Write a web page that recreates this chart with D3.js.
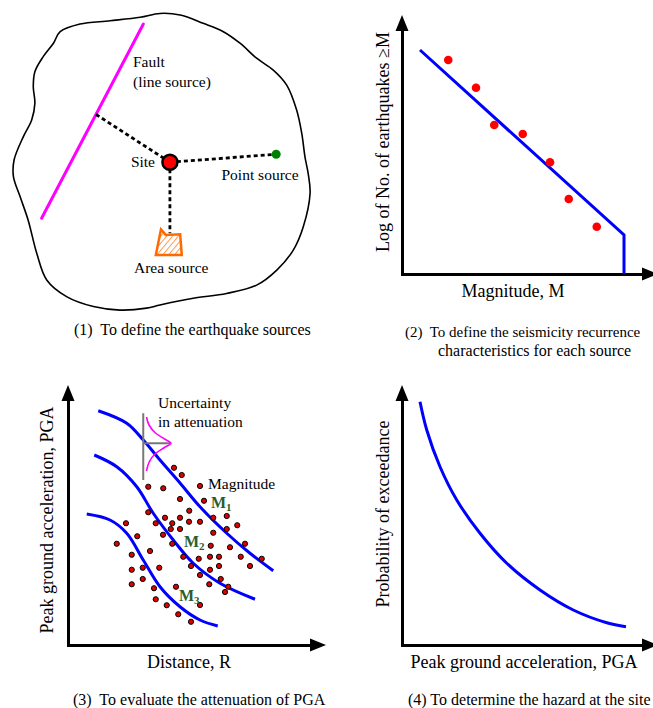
<!DOCTYPE html>
<html>
<head>
<meta charset="utf-8">
<script src="https://cdn.jsdelivr.net/npm/d3@7"></script>
<style>
  body { margin: 0; background: #fff; }
  svg { display: block; font-family: "Liberation Serif", "Times New Roman", serif; }
  text { white-space: pre; }
</style>
</head>
<body>
<svg id="chart" width="653" height="708"></svg>
<script>
// ---- panel 1: source map, 0-100 grid ----
const regionOutline = [
  [18.8,9.9],[25,7.5],[34.4,6.5],[43.8,5.4],[50,4.2],[56.3,4.7],[63.5,7.3],[69.8,9.9],
  [75,13.5],[80.2,18.2],[85.4,21.9],[89.6,26.6],[92.7,34.4],[94.3,41.7],[95.3,49],
  [96.3,54.2],[96.9,60.4],[94.8,70.8],[91.7,78.1],[86.5,84.4],[80.2,89.1],[70.8,91.7],
  [60.4,93.2],[50,95.3],[45.8,96.3],[37.5,96.9],[29.2,95.8],[20.8,92.7],[14.6,87.5],
  [11.5,79.2],[8.8,68.8],[6.3,61.5],[4.2,55.2],[4.4,50],[7.3,42.7],[9.9,37.5],
  [10.9,32.3],[10.4,27.1],[10.9,22.4],[13.5,17.7],[16.7,13.5]
];
const faultLine = [[44.8,7.5],[13,68.2]];
const site = [53.1,50.7];
const faultFoot = [29.9,35.7];
const pointSource = [86.3,48.2];
const areaLink = [53.1,72.9];
const areaSource = [[50.3,71.7],[51.8,73.4],[56.3,73.2],[56.8,79.7],[48.7,79.7]];

// ---- panel 2: recurrence ----
const recurrenceLine = [[0.72,8.96],[8.88,1.56],[8.88,0]];
const recurrenceObs = [[1.85,8.56],[2.96,7.45],[3.69,5.96],[4.83,5.6],[5.92,4.47],[6.67,3.0],[7.79,1.89]];

// ---- panel 3: attenuation ----
const attenCurves = [
  [[1.21,9.37],[2.35,8.87],[3.01,8.2],[3.68,7.4],[4.48,6.48],[5.28,5.53],[6.35,4.47],[7.28,3.67],[8.21,2.97]],
  [[1.05,7.6],[1.95,7.13],[2.75,6.33],[3.41,5.27],[4.21,4.2],[5.01,3.27],[6.08,2.47],[7.48,1.83]],
  [[0.75,5.24],[1.68,5.0],[2.35,4.47],[3.01,3.4],[3.68,2.33],[4.48,1.53],[5.28,1.0],[5.99,0.76]]
];
const attenObs = [
  [4.24,7.09],[4.55,6.8],[3.21,6.33],[3.81,6.27],[5.28,6.36],[4.48,5.84],[5.44,5.77],[4.85,5.37],
  [3.21,5.31],[3.88,5.09],[4.48,5.09],[5.81,5.09],[6.35,5.16],[2.32,4.87],[3.51,4.87],[4.17,4.87],
  [4.84,4.93],[5.28,4.93],[6.77,4.79],[4.11,4.64],[4.48,4.64],[6.35,4.64],[2.77,4.35],[3.8,4.41],
  [5.81,4.49],[1.95,4.05],[4.17,4.05],[5.71,3.97],[6.48,3.91],[7.08,4.05],[3.28,3.76],[2.55,3.61],
  [4.61,3.53],[5.23,3.45],[5.68,3.53],[6.04,3.53],[6.91,3.53],[7.75,3.45],[2.55,3.01],[2.99,3.09],
  [3.65,3.09],[4.92,3.16],[5.68,3.01],[6.04,3.16],[7.28,3.16],[2.55,2.43],[2.99,2.64],[5.28,2.8],
  [6.11,2.64],[5.65,2.43],[6.41,2.33],[6.28,2.12],[3.44,2.27],[4.32,2.33],[3.51,1.83],[3.95,1.59],
  [5.28,1.6],[4.41,1.23],[4.92,0.93]
];
const spreadAxisV = [[3.01,9.27],[3.01,6.6]];
const spreadAxisH = [[3.01,8.07],[4.08,8.07]];
const spreadCurve = [[3.14,9.12],[3.24,8.8],[3.5,8.48],[3.86,8.24],[4.12,8.07],[3.86,7.9],[3.5,7.66],[3.24,7.3],[3.14,6.96]];
const magSubs = ["1", "2", "3"];

// ---- panel 4: hazard ----
const hazardCurve = [[0.72,9.73],[0.99,8.6],[1.52,7.13],[2.19,5.8],[3.12,4.47],[4.19,3.27],[5.52,2.2],[6.85,1.4],[8.19,0.89],[8.96,0.73]];

const axisTitles = ["Magnitude, M", "Log of No. of earthquakes \u2265M", "Distance, R",
  "Peak ground acceleration, PGA", "Peak ground acceleration, PGA", "Probability of exceedance"];
const captions = ["(1)  To define the earthquake sources", "(2)  To define the seismicity recurrence",
  "characteristics for each source", "(3)  To evaluate the attenuation of PGA", "(4) To determine the hazard at the site"];

const svg = d3.select('#chart');
const blue = "#0000ff";

// arrowhead helper
function arrow(g, x, y, dir) {
  const L = 16, W = 6.5;
  let pts;
  if (dir === "up") pts = [[x, y], [x - W, y + L], [x + W, y + L]];
  else pts = [[x, y], [x - L, y - W], [x - L, y + W]];
  g.append("path").attr("d", "M" + pts.join("L") + "Z").attr("fill", "#000");
}

function drawAxes(g, x, y, xTip, yTip) {
  const ax = g.append("g").attr("transform", "translate(0," + y.range()[0] + ")")
    .call(d3.axisBottom(x).ticks(0).tickSizeOuter(0));
  const ay = g.append("g").attr("transform", "translate(" + x.range()[0] + ",0)")
    .call(d3.axisLeft(y).ticks(0).tickSizeOuter(0));
  [ax, ay].forEach(a => a.select(".domain").attr("stroke", "#000").attr("stroke-width", 3).attr("stroke-linecap", "square"));
  arrow(g, x.range()[0], yTip, "up");
  arrow(g, xTip, y.range()[0], "right");
}

// ---------- panel 1 ----------
const mx = d3.scaleLinear().domain([0, 100]).range([0, 320]);
const my = d3.scaleLinear().domain([0, 100]).range([0, 320]);
const g1 = svg.append("g");

const defs = svg.append("defs");
defs.append("pattern").attr("id", "hatch").attr("patternUnits", "userSpaceOnUse")
  .attr("width", 4.5).attr("height", 4.5).attr("patternTransform", "rotate(40)")
  .append("line").attr("x1", 0).attr("y1", 0).attr("x2", 0).attr("y2", 4.5)
  .attr("stroke", "#ff6a00").attr("stroke-width", 1.3);

g1.append("path").datum(regionOutline)
  .attr("d", d3.line().x(d => mx(d[0])).y(d => my(d[1])).curve(d3.curveCatmullRomClosed))
  .attr("fill", "none").attr("stroke", "#000").attr("stroke-width", 1.6);

g1.append("path").datum(faultLine)
  .attr("d", d3.line().x(d => mx(d[0])).y(d => my(d[1])))
  .attr("stroke", "#ff00ff").attr("stroke-width", 3).attr("stroke-linecap", "round");

[faultFoot, pointSource, areaLink].forEach(p => {
  g1.append("line").attr("x1", mx(site[0])).attr("y1", my(site[1]))
    .attr("x2", mx(p[0])).attr("y2", my(p[1]))
    .attr("stroke", "#000").attr("stroke-width", 2.8).attr("stroke-dasharray", "4,3");
});

g1.append("path").datum(areaSource)
  .attr("d", d3.line().x(d => mx(d[0])).y(d => my(d[1])).curve(d3.curveLinearClosed))
  .attr("fill", "url(#hatch)").attr("stroke", "#ff6a00").attr("stroke-width", 2.5)
  .attr("stroke-linejoin", "miter");

g1.append("circle").attr("cx", mx(pointSource[0])).attr("cy", my(pointSource[1])).attr("r", 4.5).attr("fill", "#008000");
g1.append("circle").attr("cx", mx(site[0])).attr("cy", my(site[1])).attr("r", 7.5)
  .attr("fill", "#ff0000").attr("stroke", "#000").attr("stroke-width", 2.5);

const t1 = g1.append("g").attr("font-size", 15.5).attr("fill", "#000");
t1.append("text").attr("x", 133).attr("y", 67).text("Fault");
t1.append("text").attr("x", 133).attr("y", 87).text("(line source)");
t1.append("text").attr("x", 155).attr("y", 167).attr("text-anchor", "end").text("Site");
t1.append("text").attr("x", 221.5).attr("y", 180).text("Point source");
t1.append("text").attr("x", 134).attr("y", 273).text("Area source");

// ---------- panel 2 ----------
const x2 = d3.scaleLinear().domain([0, 10]).range([402, 652]);
const y2 = d3.scaleLinear().domain([0, 10]).range([274, 24]);
const g2 = svg.append("g");
drawAxes(g2, x2, y2, 658, 15);
g2.append("path").datum(recurrenceLine)
  .attr("d", d3.line().x(d => x2(d[0])).y(d => y2(d[1])))
  .attr("fill", "none").attr("stroke", blue).attr("stroke-width", 3);
g2.selectAll("circle.obs").data(recurrenceObs).enter().append("circle")
  .attr("cx", d => x2(d[0])).attr("cy", d => y2(d[1])).attr("r", 4.3).attr("fill", "#ff0000");

// ---------- panel 3 ----------
const x3 = d3.scaleLinear().domain([0, 10]).range([68, 318]);
const y3 = d3.scaleLinear().domain([0, 10]).range([645, 395]);
const g3 = svg.append("g");
drawAxes(g3, x3, y3, 326, 385);
const line3 = d3.line().x(d => x3(d[0])).y(d => y3(d[1])).curve(d3.curveCatmullRom);
g3.selectAll("path.curve").data(attenCurves).enter().append("path")
  .attr("d", line3).attr("fill", "none").attr("stroke", blue).attr("stroke-width", 3);
[spreadAxisV, spreadAxisH].forEach(s => {
  g3.append("path").datum(s).attr("d", d3.line().x(d => x3(d[0])).y(d => y3(d[1])))
    .attr("stroke", "#777").attr("stroke-width", 2);
});
g3.append("path").datum(spreadCurve)
  .attr("d", d3.line().x(d => x3(d[0])).y(d => y3(d[1])).curve(d3.curveMonotoneY))
  .attr("fill", "none").attr("stroke", "#ff00ff").attr("stroke-width", 1.6);
g3.selectAll("circle.obs").data(attenObs).enter().append("circle")
  .attr("cx", d => x3(d[0])).attr("cy", d => y3(d[1])).attr("r", 2.6)
  .attr("fill", "#dd0000").attr("stroke", "#000").attr("stroke-width", 1);

const t3 = g3.append("g").attr("font-size", 15.5).attr("fill", "#000");
t3.append("text").attr("x", 158).attr("y", 408).text("Uncertainty");
t3.append("text").attr("x", 158).attr("y", 427).text("in attenuation");
t3.append("text").attr("x", 208).attr("y", 489).text("Magnitude");
const magPos = [[211, 508], [184, 547], [179, 601]];
magSubs.forEach((s, i) => {
  const t = g3.append("text").attr("x", magPos[i][0]).attr("y", magPos[i][1])
    .attr("font-size", 16).attr("font-weight", "bold").attr("fill", "#2b5d2b");
  t.append("tspan").text("M");
  t.append("tspan").attr("font-size", 11).attr("dy", 3).text(s);
});

// ---------- panel 4 ----------
const x4 = d3.scaleLinear().domain([0, 10]).range([402, 652]);
const y4 = d3.scaleLinear().domain([0, 10]).range([645, 395]);
const g4 = svg.append("g");
drawAxes(g4, x4, y4, 658, 385);
g4.append("path").datum(hazardCurve)
  .attr("d", d3.line().x(d => x4(d[0])).y(d => y4(d[1])).curve(d3.curveCatmullRom))
  .attr("fill", "none").attr("stroke", blue).attr("stroke-width", 3);

// ---------- axis titles ----------
const ta = svg.append("g").attr("font-size", 18).attr("fill", "#000").attr("text-anchor", "middle");
ta.append("text").attr("x", 513).attr("y", 297).text(axisTitles[0]);
ta.append("text").attr("transform", "translate(389,142) rotate(-90)").text(axisTitles[1]);
ta.append("text").attr("x", 189).attr("y", 668).text(axisTitles[2]);
ta.append("text").attr("transform", "translate(53,520) rotate(-90)").text(axisTitles[3]);
ta.append("text").attr("x", 524).attr("y", 668).text(axisTitles[4]);
ta.append("text").attr("transform", "translate(389,514) rotate(-90)").text(axisTitles[5]);

// ---------- captions ----------
const tc = svg.append("g").attr("font-size", 16).attr("fill", "#000");
tc.append("text").attr("x", 74).attr("y", 335).text(captions[0]);
tc.append("text").attr("x", 405).attr("y", 337).attr("font-size", 15).text(captions[1]);
tc.append("text").attr("x", 438).attr("y", 356).text(captions[2]);
tc.append("text").attr("x", 73).attr("y", 705).text(captions[3]);
tc.append("text").attr("x", 408).attr("y", 705).text(captions[4]);
</script>
</body>
</html>
